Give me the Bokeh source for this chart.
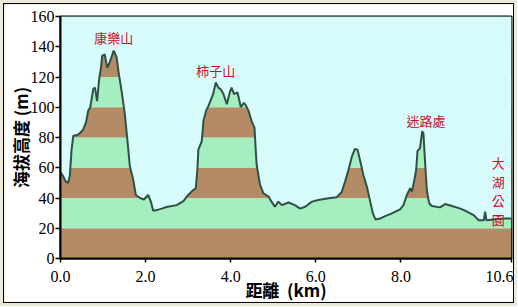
from bokeh.plotting import figure
from bokeh.models import Range1d, FixedTicker, ColumnDataSource
from bokeh.layouts import column
from bokeh.core.properties import value
from bokeh.embed import file_html
from bokeh.resources import INLINE

# ---- data ----
dist_km = [0.00, 0.05, 0.12, 0.18, 0.22, 0.26, 0.30, 0.42, 0.53, 0.60, 0.65, 0.70, 0.77, 0.81,
           0.86, 0.91, 0.95, 0.98, 1.04, 1.10, 1.16, 1.25, 1.32, 1.36, 1.44, 1.51, 1.57, 1.63,
           1.71, 1.77, 1.87, 1.96, 2.06, 2.12, 2.18, 2.26, 2.38, 2.49, 2.73, 2.89, 3.00, 3.12,
           3.18, 3.22, 3.24, 3.32, 3.36, 3.42, 3.48, 3.55, 3.59, 3.65, 3.71, 3.76, 3.83, 3.91,
           3.98, 4.02, 4.08, 4.16, 4.24, 4.31, 4.36, 4.42, 4.49, 4.56, 4.59, 4.61, 4.69, 4.77,
           4.89, 4.96, 5.04, 5.12, 5.20, 5.36, 5.51, 5.63, 5.75, 5.91, 6.06, 6.30, 6.49, 6.61,
           6.69, 6.77, 6.85, 6.92, 6.98, 7.04, 7.12, 7.20, 7.28, 7.34, 7.40, 7.51, 7.63, 7.75,
           7.87, 7.98, 8.06, 8.14, 8.22, 8.26, 8.31, 8.36, 8.39, 8.45, 8.50, 8.53, 8.55, 8.58,
           8.61, 8.65, 8.67, 8.73, 8.92, 9.04, 9.20, 9.40, 9.51, 9.71, 9.83, 9.95, 9.98, 10.01,
           10.18, 10.42, 10.60]
elev_m = [57, 55, 51, 50, 55, 72, 81, 82, 85, 90, 97.6, 100, 112, 113,
          104, 119, 126, 134, 135, 126, 130, 137.5, 133, 124, 110, 96, 79, 61,
          52, 42, 40, 39, 42, 38, 31.5, 32, 33, 34, 35.3, 38, 42, 45.3,
          46.4, 60, 72, 77.5, 91, 97.6, 101, 106, 109, 116.4, 113, 112, 108.7, 102,
          110, 113, 108.7, 109.8, 100, 103, 101, 97.6, 91, 86.4, 71, 62, 48.7, 43,
          41, 37.6, 34.2, 37.6, 35.3, 37, 35.3, 33, 34.2, 37.6, 38.7, 39.8, 40.5, 44,
          51, 58.7, 67.6, 72.4, 72, 65, 55, 47.6, 37.6, 30, 25.8, 26.4, 28, 29.3,
          31, 32.4, 35.3, 42, 46.4, 44.2, 51, 58.7, 71, 73, 84, 83, 73, 58.7,
          45.3, 38.7, 36.4, 34.7, 33.8, 36, 34.7, 33, 31.6, 28.7, 25.3, 25.3, 31, 25.3,
          25.8, 26.4, 26.4]

band_lo = [0, 20, 40, 60, 80, 100, 120, 140]
band_hi = [20, 40, 60, 80, 100, 120, 140, 160]

place_names = ["康樂山", "柿子山", "迷路處"]
x_ticks = [0, 2, 4, 6, 8, 10.6]
x_tick_labels = ["0.0", "2.0", "4.0", "6.0", "8.0", "10.6"]
y_ticks = [0, 20, 40, 60, 80, 100, 120, 140, 160]
end_name = "大湖公園"

# ---- style ----
SKY = "#d8fbfb"
BROWN = "#b38b65"
GREEN = "#a4eec0"
LINE = "#2f5047"
RED = "#c8102e"
TICK_FONT = "Times New Roman"
band_colors = [BROWN, GREEN] * 4

p = figure(width=511, height=300, x_range=Range1d(0, 10.6), y_range=Range1d(0, 160),
           output_backend="svg", toolbar_location=None,
           min_border_left=55, min_border_top=12, min_border_right=4, min_border_bottom=46,
           background_fill_color=SKY, border_fill_color="white")
p.grid.visible = False
p.outline_line_color = "black"
p.outline_line_width = 2

p.quad(left=0, right=10.6, bottom=band_lo, top=band_hi, fill_color=band_colors, line_color=None)
p.varea(x=dist_km, y1=elev_m, y2=160, fill_color=SKY)
p.line(dist_km, elev_m, line_color=LINE, line_width=2)

# labels
lab = ColumnDataSource(dict(x=[1.25, 3.65, 8.59], y=[146, 124, 91.3], t=place_names))
p.text(x="x", y="y", text="t", source=lab, text_font=value("Noto Sans CJK TC"),
       text_font_size="13px", text_color=RED, text_align="center", text_baseline="middle")
p.text(x=[10.29], y=[44.7], text=["\n".join(end_name)], text_font=value("Noto Sans CJK TC"),
       text_font_size="13px", text_color=RED, text_align="center", text_baseline="middle",
       text_line_height=1.0)

# axes
for ax in (p.xaxis[0], p.yaxis[0]):
    ax.axis_line_width = 2
    ax.axis_line_color = "black"
    ax.major_tick_line_color = "black"
    ax.major_tick_line_width = 1.5
    ax.major_tick_in = 0
    ax.minor_tick_line_color = None
    ax.major_label_text_font = TICK_FONT
    ax.major_label_text_font_size = "16px"
    ax.major_label_text_color = "black"
    ax.axis_label_text_font = "Noto Sans CJK TC"
    ax.axis_label_text_font_style = "bold"
    ax.axis_label_text_font_size = "17px"
    ax.axis_label_text_color = "black"

p.xaxis.ticker = FixedTicker(ticks=x_ticks)
p.xaxis.major_label_overrides = dict(zip(x_ticks, x_tick_labels))
p.xaxis.major_tick_out = 4
p.xaxis.major_label_standoff = 8
p.xaxis.axis_label = "距離\u00a0\u00a0(km)"
p.xaxis.axis_label_standoff = -8

p.yaxis.ticker = FixedTicker(ticks=y_ticks)
p.yaxis.major_tick_out = 5
p.yaxis.major_label_standoff = 1
p.yaxis.axis_label = "海拔高度 (m)"
p.yaxis.axis_label_standoff = -5

p.styles = {"border": "1px solid black"}
layout = column(p, styles={"background-color": "#ece9d8", "padding": "3px"})

open("out.html", "w").write(file_html(layout, INLINE))
